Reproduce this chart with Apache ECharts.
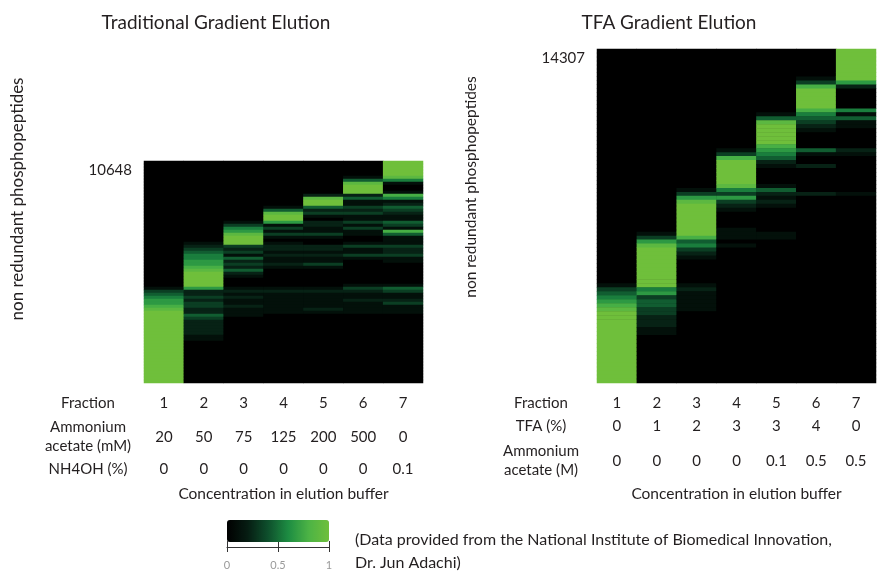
<!DOCTYPE html>
<html>
<head>
<meta charset="utf-8">
<script src="https://cdn.jsdelivr.net/npm/echarts@6/dist/echarts.min.js"></script>
<style>
html,body{margin:0;padding:0;background:#fff;}
#chart{width:880px;height:572px;}
</style>
</head>
<body>
<div id="chart"></div>
<script>
// ---- categories / tick labels ----
const fractions = ['1','2','3','4','5','6','7'];
const tradAmmoniumMM = ['20','50','75','125','200','500','0'];
const tradNH4OH = ['0','0','0','0','0','0','0.1'];
const tfaPercent = ['0','1','2','3','3','4','0'];
const tfaAmmoniumM = ['0','0','0','0','0.1','0.5','0.5'];
const peptideTotals = [10648, 14307];
const colorbarTicks = [0, 0.5, 1];

// ---- intensities (0..9 = ninths of max), one entry per peptide row, top to bottom ----
// Traditional gradient elution: 74 rows
const trad1 = [0,0,0,0,0,0,0,0,0,0,0,0,0,0,0,0,0,0,0,0,0,0,0,0,0,0,0,0,0,0,0,0,0,0,0,0,0,0,0,0,0,0,1,3,4,5,6,6,7,8,9,9,9,9,9,9,9,9,9,9,9,9,9,9,9,9,9,9,9,9,9,9,9,9];
const trad2 = [0,0,0,0,0,0,0,0,0,0,0,0,0,0,0,0,0,0,0,0,0,0,0,0,0,0,0,1,2,3,4,5,5,6,6,7,8,9,9,9,9,9,6,2,2,3,2,3,3,2,2,4,3,2,2,2,2,2,1,1,0,0,0,0,0,0,0,0,0,0,0,0,0,0];
const trad3 = [0,0,0,0,0,0,0,0,0,0,0,0,0,0,0,0,0,0,0,0,1,3,5,6,8,9,9,9,3,2,3,1,4,2,3,2,4,2,1,0,0,0,1,2,1,2,1,1,2,1,1,1,0,0,0,0,0,0,0,0,0,0,0,0,0,0,0,0,0,0,0,0,0,0];
const trad4 = [0,0,0,0,0,0,0,0,0,0,0,0,0,0,0,1,4,8,9,9,6,1,3,1,3,1,0,1,2,2,1,2,1,1,2,1,0,0,0,0,0,0,1,2,1,1,1,1,1,1,1,0,0,0,0,0,0,0,0,0,0,0,0,0,0,0,0,0,0,0,0,0,0,0];
const trad5 = [0,0,0,0,0,0,0,0,0,0,0,2,8,9,9,4,2,3,1,0,2,2,1,1,3,1,0,0,2,2,1,2,1,1,3,1,0,0,0,0,0,0,1,2,1,1,1,1,1,2,1,0,0,0,0,0,0,0,0,0,0,0,0,0,0,0,0,0,0,0,0,0,0,0];
const trad6 = [0,0,0,0,0,1,4,8,9,9,9,2,4,1,1,3,2,3,1,1,3,1,3,1,1,0,0,1,3,1,1,3,1,0,0,0,0,0,0,0,0,1,3,2,1,1,2,1,1,1,1,0,0,0,0,0,0,0,0,0,0,0,0,0,0,0,0,0,0,0,0,0,0,0];
const trad7 = [9,9,9,9,9,8,5,1,0,0,1,7,5,1,2,4,3,2,1,1,4,3,1,7,4,1,1,1,3,2,2,3,1,1,0,0,0,0,0,0,0,1,4,3,1,1,2,3,1,1,1,0,0,0,0,0,0,0,0,0,0,0,0,0,0,0,0,0,0,0,0,0,0,0];
// TFA gradient elution: 84 rows
const tfa1 = [0,0,0,0,0,0,0,0,0,0,0,0,0,0,0,0,0,0,0,0,0,0,0,0,0,0,0,0,0,0,0,0,0,0,0,0,0,0,0,0,0,0,0,0,0,0,0,0,0,0,0,0,0,0,0,0,0,0,0,1,3,4,5,6,7,8,9,9,9,9,9,9,9,9,9,9,9,9,9,9,9,9,9,9];
const tfa2 = [0,0,0,0,0,0,0,0,0,0,0,0,0,0,0,0,0,0,0,0,0,0,0,0,0,0,0,0,0,0,0,0,0,0,0,0,0,0,0,0,0,0,0,0,0,0,1,3,6,8,9,9,9,9,9,9,9,9,9,9,5,6,3,4,4,3,3,2,2,2,1,1,0,0,0,0,0,0,0,0,0,0,0,0];
const tfa3 = [0,0,0,0,0,0,0,0,0,0,0,0,0,0,0,0,0,0,0,0,0,0,0,0,0,0,0,0,0,0,0,0,0,0,0,1,3,6,8,9,9,9,9,9,9,9,9,7,4,5,3,2,1,0,0,0,0,0,0,1,2,1,1,1,1,1,0,0,0,0,0,0,0,0,0,0,0,0,0,0,0,0,0,0];
const tfa4 = [0,0,0,0,0,0,0,0,0,0,0,0,0,0,0,0,0,0,0,0,0,0,0,0,0,1,3,7,9,9,9,9,9,9,8,5,3,6,3,2,1,0,0,0,0,1,1,1,0,1,0,0,0,0,0,0,0,0,0,0,0,0,0,0,0,0,0,0,0,0,0,0,0,0,0,0,0,0,0,0,0,0,0,0];
const tfa5 = [0,0,0,0,0,0,0,0,0,0,0,0,0,0,0,0,1,4,8,9,9,9,9,9,7,6,5,4,2,1,0,0,0,0,1,4,2,1,2,1,0,0,0,0,0,0,1,1,0,0,0,0,0,0,0,0,0,0,0,0,0,0,0,0,0,0,0,0,0,0,0,0,0,0,0,0,0,0,0,0,0,0,0,0];
const tfa6 = [0,0,0,0,0,0,0,1,3,7,9,9,9,9,9,7,5,4,3,2,1,0,0,0,0,4,1,0,0,2,0,0,0,0,0,0,2,0,0,0,0,0,0,0,0,0,0,0,0,0,0,0,0,0,0,0,0,0,0,0,0,0,0,0,0,0,0,0,0,0,0,0,0,0,0,0,0,0,0,0,0,0,0,0];
const tfa7 = [9,9,9,9,9,9,9,9,6,2,0,0,0,0,0,5,1,4,1,1,0,0,0,0,0,2,1,0,0,0,0,0,0,0,0,0,1,0,0,0,0,0,0,0,0,0,0,0,0,0,0,0,0,0,0,0,0,0,0,0,0,0,0,0,0,0,0,0,0,0,0,0,0,0,0,0,0,0,0,0,0,0,0,0];

const tradColumns = [trad1, trad2, trad3, trad4, trad5, trad6, trad7];
const tfaColumns = [tfa1, tfa2, tfa3, tfa4, tfa5, tfa6, tfa7];

function cells(columns) {
  const out = [];
  columns.forEach((col, c) => col.forEach((v, r) => out.push([c, r, v / 9])));
  return out;
}
function rowNames(n) { return Array.from({length: n}, (_, i) => String(i)); }

const FONT = 'Lato';
const TXT = '#231f20';
const FS = 15;

function tableAxis(gridIndex, labels, name, offset) {
  return {
    type: 'category', gridIndex, position: 'bottom', offset,
    data: fractions,
    axisLine: {show: false}, axisTick: {show: false},
    axisLabel: {margin: 0, verticalAlign: 'middle', fontSize: FS, color: TXT, fontFamily: FONT,
      formatter: (v, i) => labels[i]},
    name, nameLocation: 'start', nameGap: 56,
    nameTextStyle: {align: 'center', verticalAlign: 'middle', fontSize: FS, color: TXT, fontFamily: FONT, lineHeight: 19}
  };
}
function footAxis(gridIndex) {
  return {
    type: 'category', gridIndex, position: 'bottom', data: fractions,
    axisLine: {show: false}, axisTick: {show: false}, axisLabel: {show: false},
    name: 'Concentration in elution buffer', nameLocation: 'middle', nameGap: 111,
    nameTextStyle: {fontSize: 15.5, color: TXT, fontFamily: FONT, verticalAlign: 'middle'}
  };
}
function rowAxis(gridIndex, n, total) {
  return {
    type: 'category', gridIndex, inverse: true, data: rowNames(n),
    axisLine: {show: false}, axisTick: {show: false}, splitLine: {show: false},
    axisLabel: {interval: 0, margin: 12, fontSize: FS, color: TXT, fontFamily: FONT, verticalAlign: 'top',
      formatter: (v, i) => (i === 0 ? String(total) : '')}
  };
}

const chart = echarts.init(document.getElementById('chart'), null, {renderer: 'canvas'});
chart.setOption({
  animation: false,
  textStyle: {fontFamily: FONT},
  grid: [
    {left: 144, top: 161, width: 279, height: 222, show: true, backgroundColor: '#000', borderWidth: 0},
    {left: 597, top: 49, width: 279, height: 334, show: true, backgroundColor: '#000', borderWidth: 0},
    {left: 227, top: 541, width: 102, height: 6, show: false}
  ],
  xAxis: [
    tableAxis(0, fractions, 'Fraction', 20),
    tableAxis(0, tradAmmoniumMM, 'Ammonium\nacetate (mM)', 54),
    tableAxis(0, tradNH4OH, 'NH4OH (%)', 86),
    footAxis(0),
    tableAxis(1, fractions, 'Fraction', 20),
    tableAxis(1, tfaPercent, 'TFA (%)', 43),
    tableAxis(1, tfaAmmoniumM, 'Ammonium\nacetate (M)', 78),
    footAxis(1),
    {
      type: 'value', gridIndex: 2, min: colorbarTicks[0], max: colorbarTicks[2], interval: colorbarTicks[1],
      axisLine: {show: true, lineStyle: {color: '#333', width: 1}},
      axisTick: {show: true, length: 5, lineStyle: {color: '#333'}},
      splitLine: {show: true, lineStyle: {color: '#333', width: 1}},
      axisLabel: {fontSize: 11, color: '#9a9a9a', margin: 13, fontFamily: FONT}
    }
  ],
  yAxis: [
    rowAxis(0, trad1.length, peptideTotals[0]),
    rowAxis(1, tfa1.length, peptideTotals[1]),
    {type: 'value', gridIndex: 2, show: false, min: 0, max: 1}
  ],
  visualMap: {
    type: 'continuous', min: 0, max: 1, seriesIndex: [0, 1],
    orient: 'horizontal', left: 227, top: 520, itemWidth: 22, itemHeight: 102,
    calculable: false, hoverLink: false, padding: 0, text: null,
    inRange: {color: ['#000000', '#061c12', '#0e4f2c', '#1d8c42', '#4cb345', '#6fbf3b']}
  },
  series: [
    {type: 'heatmap', xAxisIndex: 0, yAxisIndex: 0, data: cells(tradColumns),
     itemStyle: {borderWidth: 0}, emphasis: {disabled: true}, progressive: 0},
    {type: 'heatmap', xAxisIndex: 4, yAxisIndex: 1, data: cells(tfaColumns),
     itemStyle: {borderWidth: 0}, emphasis: {disabled: true}, progressive: 0}
  ],
  graphic: [
    {type: 'text', x: 216, y: 23, style: {text: 'Traditional Gradient Elution', fontSize: 19, fontFamily: FONT, fill: TXT, align: 'center', verticalAlign: 'middle'}},
    {type: 'text', x: 669, y: 23, style: {text: 'TFA Gradient Elution', fontSize: 19, fontFamily: FONT, fill: TXT, align: 'center', verticalAlign: 'middle'}},
    {type: 'text', x: 18, y: 199, rotation: Math.PI / 2, style: {text: 'non redundant phosphopeptides', fontSize: 17, fontFamily: FONT, fill: TXT, align: 'center', verticalAlign: 'middle'}},
    {type: 'text', x: 471, y: 187, rotation: Math.PI / 2, style: {text: 'non redundant phosphopeptides', fontSize: 15.5, fontFamily: FONT, fill: TXT, align: 'center', verticalAlign: 'middle'}},
    {type: 'text', x: 355, y: 540, style: {text: '(Data provided from the National Institute of Biomedical Innovation,', fontSize: 16, fontFamily: FONT, fill: TXT, align: 'left', verticalAlign: 'middle'}},
    {type: 'text', x: 355, y: 563, style: {text: 'Dr. Jun Adachi)', fontSize: 16, fontFamily: FONT, fill: TXT, align: 'left', verticalAlign: 'middle'}}
  ]
});
</script>
</body>
</html>
